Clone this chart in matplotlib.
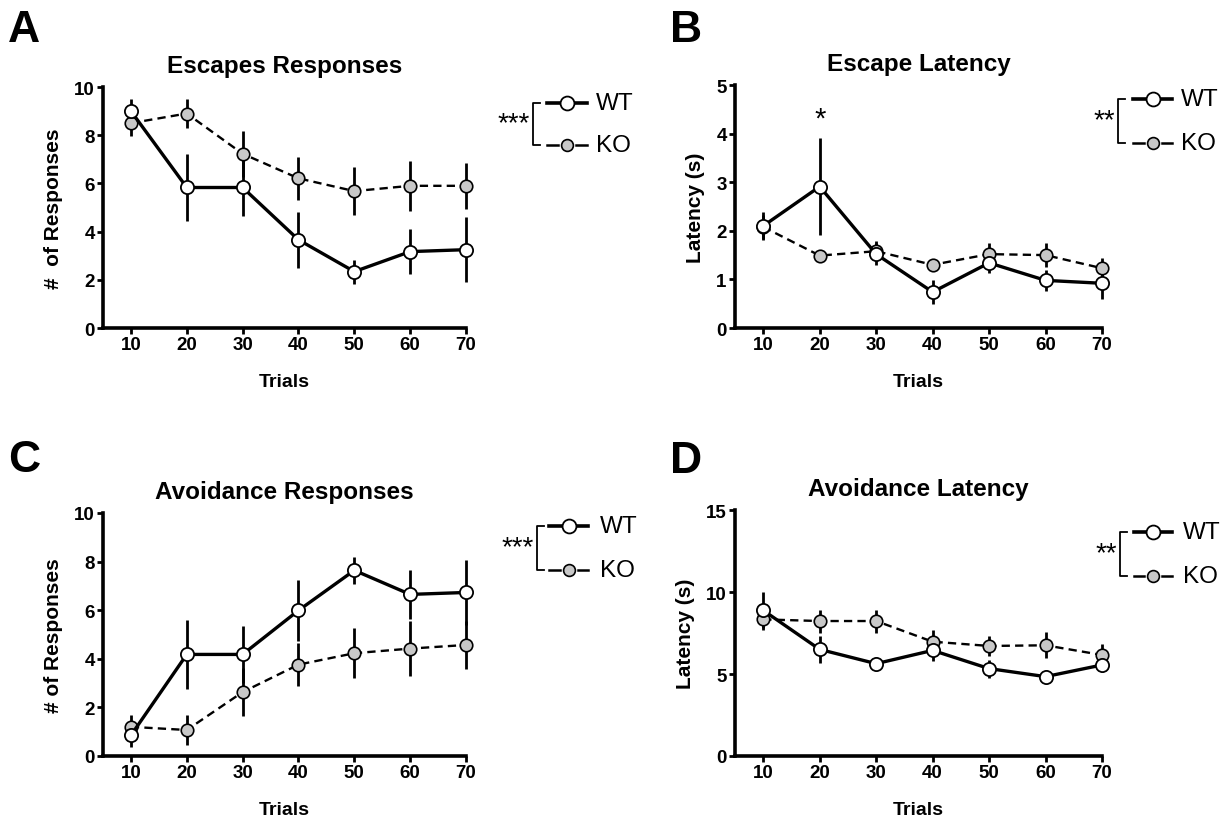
import matplotlib
matplotlib.use("Agg")
import matplotlib.pyplot as plt
from matplotlib.lines import Line2D

plt.rcParams['font.family'] = ['Liberation Sans', 'DejaVu Sans']

W, H = 1224, 820

# ─── data ─────────────────────────────────────────────────────────────────────
trials = [10, 20, 30, 40, 50, 60, 70]

esc_resp_wt = [9.0, 5.83, 5.83, 3.66, 2.34, 3.17, 3.25]
esc_resp_wt_err = [0.5, 1.4, 1.2, 1.15, 0.5, 0.95, 1.35]
esc_resp_ko = [8.5, 8.9, 7.23, 6.21, 5.68, 5.9, 5.9]
esc_resp_ko_err = [0.55, 0.6, 0.95, 0.88, 1.0, 1.05, 0.95]

esc_lat_wt = [2.10, 2.91, 1.52, 0.74, 1.34, 0.98, 0.92]
esc_lat_wt_err = [0.29, 1.0, 0.22, 0.25, 0.2, 0.22, 0.32]
esc_lat_ko = [2.08, 1.49, 1.58, 1.30, 1.52, 1.50, 1.23]
esc_lat_ko_err = [0.25, 0.05, 0.2, 0.06, 0.22, 0.25, 0.22]

avo_resp_wt = [0.85, 4.18, 4.18, 5.99, 7.64, 6.65, 6.73]
avo_resp_wt_err = [0.5, 1.43, 1.17, 1.25, 0.55, 1.0, 1.35]
avo_resp_ko = [1.2, 1.07, 2.63, 3.76, 4.23, 4.42, 4.57]
avo_resp_ko_err = [0.5, 0.6, 1.0, 0.88, 1.03, 1.12, 0.98]

avo_lat_wt = [8.88, 6.5, 5.63, 6.44, 5.33, 4.84, 5.55]
avo_lat_wt_err = [1.1, 0.8, 0.2, 0.65, 0.55, 0.2, 0.4]
avo_lat_ko = [8.33, 8.23, 8.23, 6.97, 6.71, 6.75, 6.16]
avo_lat_ko_err = [0.65, 0.7, 0.7, 0.7, 0.62, 0.8, 0.65]

KO_GRAY = "#c8c8c8"


def px(x, y):
    """pixel coords (from top-left) -> figure fraction"""
    return x / W, 1 - y / H


def panel(fig, rect, wt, wt_err, ko, ko_err, ymax, ystep, title, ylabel):
    ax = fig.add_axes(rect)
    ax.errorbar(trials, ko, yerr=ko_err, fmt="none", ecolor="black",
                elinewidth=2.0, capsize=0, zorder=2, clip_on=False)
    ax.errorbar(trials, wt, yerr=wt_err, fmt="none", ecolor="black",
                elinewidth=2.0, capsize=0, zorder=2, clip_on=False)
    ax.plot(trials, ko, color="black", lw=1.7, dashes=(3.5, 2.2),
            marker="o", ms=9, mfc=KO_GRAY, mec="black", mew=1.2,
            zorder=3, clip_on=False)
    ax.plot(trials, wt, color="black", lw=2.4,
            marker="o", ms=9.5, mfc="white", mec="black", mew=1.3,
            zorder=4, clip_on=False)
    ax.set_xlim(5, 70)
    ax.set_ylim(0, ymax)
    ax.set_xticks(trials)
    ax.set_yticks(range(0, ymax + 1, ystep))
    for s in ("top", "right"):
        ax.spines[s].set_visible(False)
    for s in ("left", "bottom"):
        ax.spines[s].set_linewidth(2.6)
    ax.tick_params(width=2.0, length=4, labelsize=13.5, pad=2)
    for lab in ax.get_xticklabels() + ax.get_yticklabels():
        lab.set_fontweight("bold")
    ax.set_title(title, fontsize=17.5, fontweight="bold", pad=11)
    ax.set_xlabel("Trials", fontsize=14, fontweight="bold", labelpad=14)
    ax.set_ylabel(ylabel, fontsize=15, fontweight="bold", labelpad=8)
    return ax


def legend(fig, stars, bx, y_wt, y_ko, line_x0, line_x1, text_x):
    # bracket
    fig.add_artist(Line2D(*zip(px(bx + 7, y_wt), px(bx, y_wt),
                               px(bx, y_ko), px(bx + 7, y_ko)),
                          color="black", lw=1.3))
    fig.text(*px(bx - 3, (y_wt + y_ko) / 2 - 1), stars, ha="right",
             va="center", fontsize=20)
    mid = (line_x0 + line_x1) / 2
    fig.add_artist(Line2D(*zip(px(line_x0, y_wt), px(line_x1, y_wt)),
                          color="black", lw=2.6))
    fig.add_artist(Line2D(*zip(px(mid, y_wt)), marker="o", ms=10,
                          mfc="white", mec="black", mew=1.3, lw=0))
    for a, b in [(line_x0, mid - 9), (mid + 9, line_x1)]:
        fig.add_artist(Line2D(*zip(px(a, y_ko), px(b, y_ko)),
                              color="black", lw=1.8))
    fig.add_artist(Line2D(*zip(px(mid, y_ko)), marker="o", ms=8.5,
                          mfc=KO_GRAY, mec="black", mew=1.2, lw=0))
    fig.text(*px(text_x, y_wt), "WT", ha="left", va="center", fontsize=17.5)
    fig.text(*px(text_x, y_ko), "KO", ha="left", va="center", fontsize=17.5)


fig = plt.figure(figsize=(W / 100, H / 100), dpi=100)

axA = panel(fig, [103 / W, 1 - 329 / H, (466 - 103) / W, (329 - 88) / H],
            esc_resp_wt, esc_resp_wt_err, esc_resp_ko, esc_resp_ko_err,
            10, 2, "Escapes Responses", "#  of Responses")
axB = panel(fig, [735 / W, 1 - 329 / H, (1102 - 735) / W, (329 - 86) / H],
            esc_lat_wt, esc_lat_wt_err, esc_lat_ko, esc_lat_ko_err,
            5, 1, "Escape Latency", "Latency (s)")
axC = panel(fig, [103 / W, 1 - 757 / H, (466 - 103) / W, (757 - 514) / H],
            avo_resp_wt, avo_resp_wt_err, avo_resp_ko, avo_resp_ko_err,
            10, 2, "Avoidance Responses", "# of Responses")
axD = panel(fig, [735 / W, 1 - 757 / H, (1102 - 735) / W, (757 - 511) / H],
            avo_lat_wt, avo_lat_wt_err, avo_lat_ko, avo_lat_ko_err,
            15, 5, "Avoidance Latency", "Latency (s)")

# significance at trial 20 in B
axB.text(trials[1], 4.3, "*", ha="center", va="center", fontsize=21)

legend(fig, "***", 533, 104, 146, 547, 587, 596)
legend(fig, "**", 1118, 100, 144, 1133, 1172, 1181)
legend(fig, "***", 537, 527, 571, 549, 588, 600)
legend(fig, "**", 1120, 533, 577, 1134, 1172, 1183)

# panel letters
for letter, (x, y) in zip("ABCD", [(8, 30), (670, 30), (8, 460), (670, 462)]):
    fig.text(*px(x, y), letter, ha="left", va="center", fontsize=32,
             fontweight="bold")

fig.savefig("out.png", dpi=100)
